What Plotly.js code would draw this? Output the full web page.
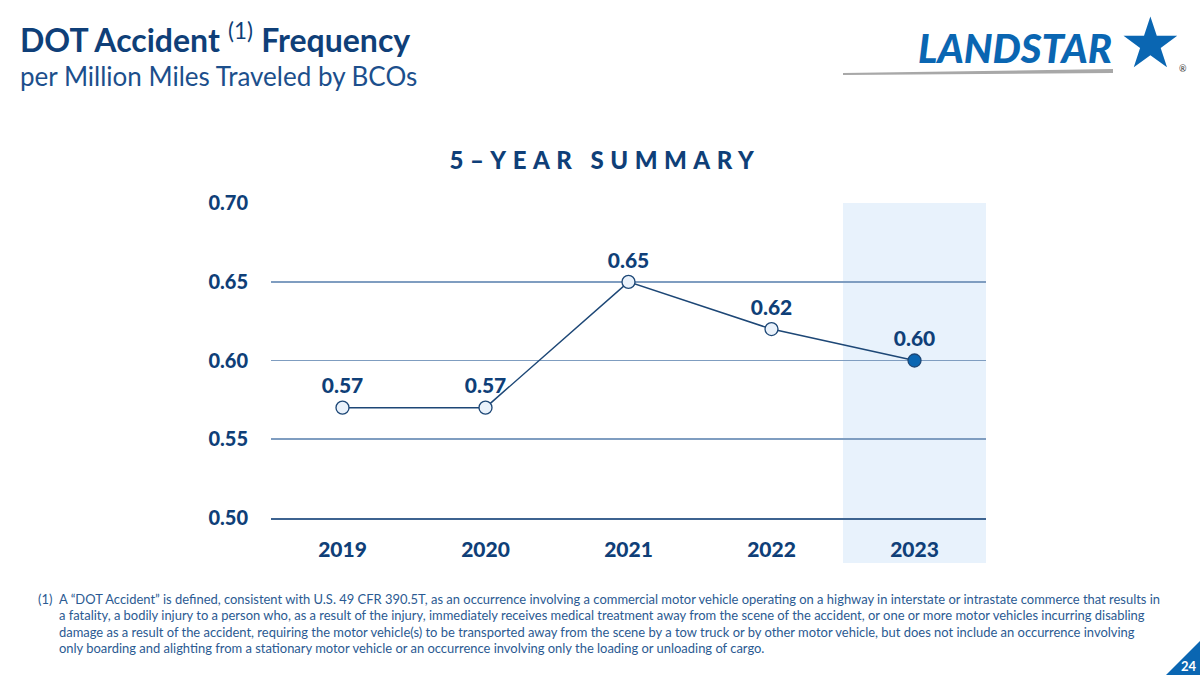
<!DOCTYPE html>
<html>
<head>
<meta charset="utf-8">
<script src="https://cdn.plot.ly/plotly-3.0.1.min.js"></script>
<style>
html,body{margin:0;padding:0;background:#fff;}
#chart{width:1200px;height:675px;}
</style>
</head>
<body>
<div id="chart"></div>
<script>
const years = ['2019','2020','2021','2022','2023'];
const frequency = [0.57, 0.57, 0.65, 0.62, 0.60];
const labels = ['0.57','0.57','0.65','0.62','0.60'];
const yTicks = [0.50, 0.55, 0.60, 0.65, 0.70];
const yTickText = ['0.50','0.55','0.60','0.65','0.70'];
const highlightYear = '2023';

const footnoteLines = [
  'A \u201CDOT Accident\u201D is defined, consistent with U.S. 49 CFR 390.5T, as an occurrence involving a commercial motor vehicle operating on a highway in interstate or intrastate commerce that results in',
  'a fatality, a bodily injury to a person who, as a result of the injury, immediately receives medical treatment away from the scene of the accident, or one or more motor vehicles incurring disabling',
  'damage as a result of the accident, requiring the motor vehicle(s) to be transported away from the scene by a tow truck or by other motor vehicle, but does not include an occurrence involving',
  'only boarding and alighting from a stationary motor vehicle or an occurrence involving only the loading or unloading of cargo.'
];

const NAVY = '#0f3f78';
const BLUE = '#0a66b2';
const FONT = 'Lato, "Open Sans", sans-serif';

// plot area in pixels
const L = 271, R = 986, T = 203, B = 518;
const px = x => (x - L) / (R - L);
const py = y => (B - y) / (B - T);

const hiIdx = years.indexOf(highlightYear);

const traces = [
  {
    x: years, y: frequency, type: 'scatter', mode: 'lines+markers+text',
    text: labels, textposition: 'top center',
    textfont: {family: FONT, size: 21, color: NAVY, weight: 900},
    line: {color: '#1d4776', width: 1.5},
    marker: {
      size: 13,
      color: years.map((y, i) => i === hiIdx ? BLUE : '#eaf2fb'),
      line: {color: '#1d4776', width: 1.3}
    },
    cliponaxis: false,
    hoverinfo: 'skip'
  }
];

const shapes = [
  {type: 'rect', xref: 'x', yref: 'paper', x0: hiIdx - 0.5, x1: hiIdx + 0.5,
   y0: py(563), y1: 1, fillcolor: '#e8f2fc', line: {width: 0}, layer: 'below'},
  {type: 'path', xref: 'paper', yref: 'paper',
   path: `M ${px(843)} ${py(73)} L ${px(1113)} ${py(69)} L ${px(1113)} ${py(73)} L ${px(843)} ${py(75)} Z`,
   fillcolor: '#a8a8a8', line: {width: 0}},
  {type: 'path', xref: 'paper', yref: 'paper',
   path: `M ${px(1166)} ${py(675)} L ${px(1200)} ${py(641)} L ${px(1200)} ${py(675)} Z`,
   fillcolor: BLUE, line: {width: 0}}
];

const annotations = [
  {xref: 'paper', yref: 'paper', x: px(18), y: py(38), xanchor: 'left', yanchor: 'middle',
   text: '<b>DOT Accident</b> <sup>(1)</sup> <b>Frequency</b>', showarrow: false,
   font: {family: FONT, size: 32, color: NAVY}},
  {xref: 'paper', yref: 'paper', x: px(18), y: py(76), xanchor: 'left', yanchor: 'middle',
   text: 'per Million Miles Traveled by BCOs', showarrow: false,
   font: {family: FONT, size: 26, color: '#1c4f8c'}},
  {xref: 'paper', yref: 'paper', x: px(605), y: py(159), xanchor: 'center', yanchor: 'middle',
   text: '5\u2013YEAR SUMMARY', showarrow: false,
   font: {family: FONT, size: 24, color: NAVY, weight: 900}},
  {xref: 'paper', yref: 'paper', x: px(1015), y: py(48), xanchor: 'center', yanchor: 'middle',
   text: '<i>LANDSTAR</i>', showarrow: false,
   font: {family: FONT, size: 40, color: BLUE, weight: 900}},
  {xref: 'paper', yref: 'paper', x: px(1150), y: py(43), xanchor: 'center', yanchor: 'middle',
   text: '\u2605', showarrow: false,
   font: {family: 'DejaVu Sans', size: 70, color: BLUE}},
  {xref: 'paper', yref: 'paper', x: px(1183), y: py(68), xanchor: 'center', yanchor: 'middle',
   text: '\u00AE', showarrow: false,
   font: {family: FONT, size: 9, color: '#333'}},
  {xref: 'paper', yref: 'paper', x: px(1189), y: py(666), xanchor: 'center', yanchor: 'middle',
   text: '<b>24</b>', showarrow: false,
   font: {family: FONT, size: 13, color: '#ffffff'}},
  {xref: 'paper', yref: 'paper', x: px(36), y: py(599), xanchor: 'left', yanchor: 'middle',
   text: '(1)', showarrow: false,
   font: {family: FONT, size: 12.95, color: '#2b5a92'}}
];

footnoteLines.forEach((t, i) => {
  annotations.push({xref: 'paper', yref: 'paper', x: px(57), y: py(599 + i * 16.3),
    xanchor: 'left', yanchor: 'middle', text: t, showarrow: false,
    font: {family: FONT, size: 12.95, color: '#2b5a92'}});
});

const layout = {
  width: 1200, height: 675,
  margin: {l: L, r: 1200 - R, t: T, b: 675 - B, pad: 0},
  paper_bgcolor: '#ffffff', plot_bgcolor: 'rgba(0,0,0,0)',
  showlegend: false,
  xaxis: {
    type: 'category', range: [-0.5, 4.5], fixedrange: true,
    showgrid: false, zeroline: false,
    showline: true, linecolor: '#3d6390', linewidth: 1.5,
    ticks: 'outside', ticklen: 12, tickcolor: 'rgba(0,0,0,0)',
    tickfont: {family: FONT, size: 21, color: NAVY, weight: 900}
  },
  yaxis: {
    range: [0.4998, 0.7002], fixedrange: true,
    tickvals: yTicks, ticktext: yTickText,
    showgrid: true, gridcolor: '#7f9dc0', gridwidth: 1.4,
    zeroline: false, showline: false,
    ticks: 'outside', ticklen: 18, tickcolor: 'rgba(0,0,0,0)',
    tickfont: {family: FONT, size: 20, color: NAVY, weight: 900}
  },
  shapes: shapes,
  annotations: annotations
};

Plotly.newPlot('chart', traces, layout, {staticPlot: true, displayModeBar: false}).then(() => {
  document.querySelectorAll('.annotation-text').forEach(el => {
    if (el.textContent.indexOf('YEAR SUMMARY') >= 0) {
      el.style.letterSpacing = '6.5px';
    }
  });
});
</script>
</body>
</html>
